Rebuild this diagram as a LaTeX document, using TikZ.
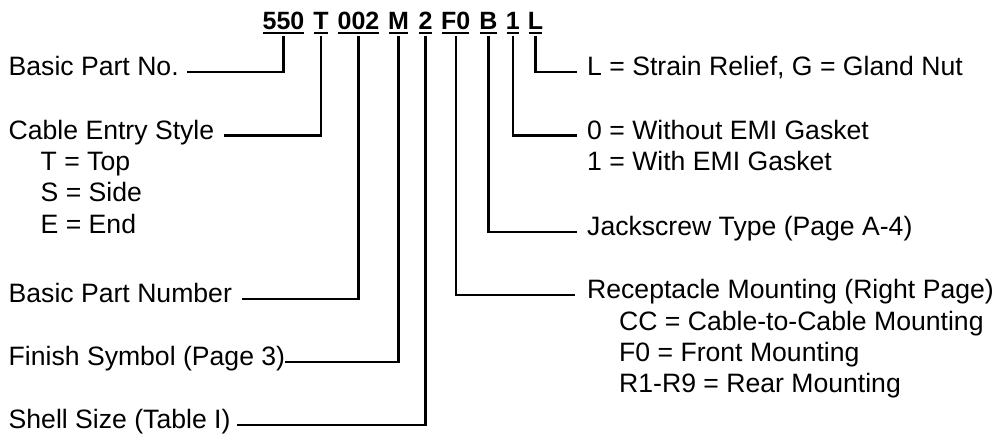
\documentclass[tikz,border=0pt]{standalone}
\usepackage{fontspec}
\setmainfont{Liberation Sans}
\begin{document}
\begin{tikzpicture}[x=1pt,y=-1pt,
  lbl/.style={anchor=west,inner xsep=0pt,inner ysep=0pt,text height=0.716em,text depth=0pt,font=\fontsize{26.6}{31}\selectfont},
  code/.style={anchor=base,inner sep=0pt,font=\fontsize{25}{30}\selectfont\bfseries},
  uline/.style={line width=2pt},
  conn/.style={line width=2.2pt}]
\useasboundingbox (0,0) rectangle (997,434);
% code tokens
\node[code] (c1) at (283.5,29.5) {550};
\node[code] (c2) at (321,29.5) {T};
\node[code] (c3) at (358.5,29.5) {002};
\node[code] (c4) at (398.5,29.5) {M};
\node[code] (c5) at (425.5,29.5) {2};
\node[code] (c6) at (455.7,29.5) {F0};
\node[code] (c7) at (488.5,29.5) {B};
\node[code] (c8) at (512.8,29.5) {1};
\node[code] (c9) at (535.5,29.5) {L};
\foreach \t in {c1,c2,c3,c4,c5,c6,c7,c8,c9}
  \draw[uline] ([xshift=1pt,yshift=-3.5pt]\t.base west) -- ([xshift=-1pt,yshift=-3.5pt]\t.base east);
% left labels
\node[lbl] (l1) at (8.5,72) {Basic Part No.};
\node[lbl] (l2) at (8.5,135.5) {Cable Entry Style};
\node[lbl] (l2a) at (40.5,166.5) {T = Top};
\node[lbl] (l2b) at (40.5,198) {S = Side};
\node[lbl] (l2c) at (40.5,229.5) {E = End};
\node[lbl] (l3) at (8.5,299) {Basic Part Number};
\node[lbl] (l4) at (8.5,362) {Finish Symbol (Page 3)};
\node[lbl] (l5) at (8.5,425) {Shell Size (Table I)};
% right labels
\node[lbl] (r1) at (587,72) {L = Strain Relief, G = Gland Nut};
\node[lbl] (r2) at (587,135.5) {0 = Without EMI Gasket};
\node[lbl] (r2a) at (587,166.5) {1 = With EMI Gasket};
\node[lbl] (r3) at (587,232) {Jackscrew Type (Page A-4)};
\node[lbl] (r4) at (587,295) {Receptacle Mounting (Right Page)};
\node[lbl] (r4a) at (619,326.5) {CC = Cable-to-Cable Mounting};
\node[lbl] (r4b) at (619,358) {F0 = Front Mounting};
\node[lbl] (r4c) at (619,389) {R1-R9 = Rear Mounting};
% connectors
\draw[conn] ([yshift=-6pt]c1.base) |- ([xshift=8pt]l1.east);
\draw[conn] ([yshift=-6pt]c2.base) |- ([xshift=10pt]l2.east);
\draw[conn] ([yshift=-6pt]c3.base) |- ([xshift=10pt]l3.east);
\draw[conn] ([yshift=-6pt]c4.base) |- ([xshift=0pt]l4.east);
\draw[conn] ([yshift=-6pt]c5.base) |- ([xshift=6pt]l5.east);
\draw[conn] ([yshift=-6pt]c6.base) |- ([xshift=-12pt]r4.west);
\draw[conn] ([yshift=-6pt]c7.base) |- ([xshift=-10pt]r3.west);
\draw[conn] ([yshift=-6pt]c8.base) |- ([xshift=-10pt]r2.west);
\draw[conn] ([yshift=-6pt]c9.base) |- ([xshift=-10pt]r1.west);
\end{tikzpicture}
\end{document}
